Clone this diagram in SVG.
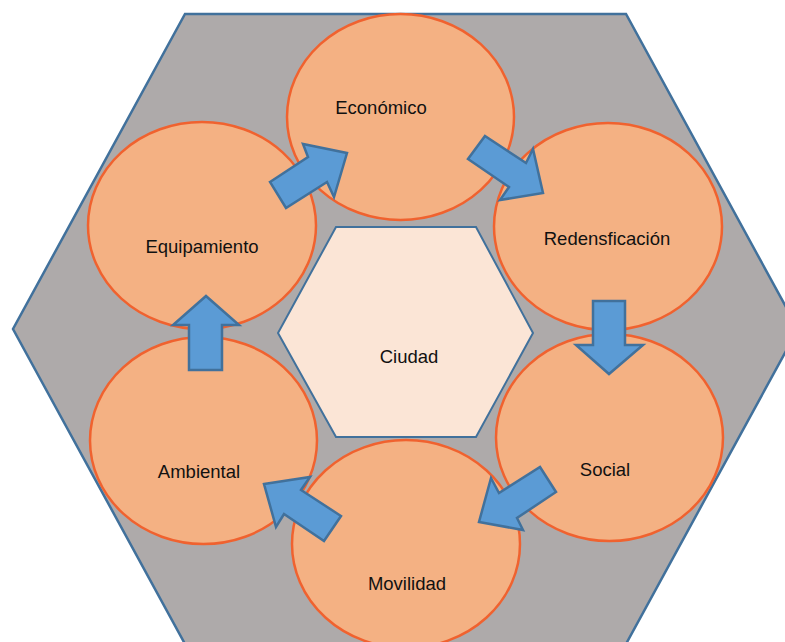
<svg xmlns="http://www.w3.org/2000/svg" width="785" height="642" viewBox="0 0 785 642">
<style>
.el{fill:#F4B183;stroke:#F0622F;stroke-width:2.5}
.arr{fill:#5B9BD5;stroke:#41719C;stroke-width:2.5;stroke-linejoin:miter}
.lbl{font-family:"Liberation Sans",Arial,sans-serif;font-size:18.5px;fill:#111;text-anchor:middle}
</style>
<rect width="785" height="642" fill="#FFFFFF"/>
<g id="outer">
<polygon points="185,14 626,14 798,329 626,644 185,644 13,329" fill="#AEAAAA" stroke="#41719C" stroke-width="2.5"/>
</g>
<g id="economico"><ellipse class="el" cx="400.5" cy="117" rx="113.5" ry="103"/><text class="lbl" x="381" y="114">Económico</text></g>
<g id="redensficacion"><ellipse class="el" cx="608" cy="226.5" rx="114" ry="103.5"/><text class="lbl" x="607" y="245">Redensficación</text></g>
<g id="social"><ellipse class="el" cx="609.5" cy="437.5" rx="113.5" ry="103.5"/><text class="lbl" x="605" y="476">Social</text></g>
<g id="movilidad"><ellipse class="el" cx="406" cy="544" rx="114" ry="104"/><text class="lbl" x="407" y="590">Movilidad</text></g>
<g id="ambiental"><ellipse class="el" cx="203.5" cy="440.5" rx="113.5" ry="103.5"/><text class="lbl" x="199" y="478">Ambiental</text></g>
<g id="equipamiento"><ellipse class="el" cx="202" cy="225.5" rx="114" ry="103.5"/><text class="lbl" x="202" y="253">Equipamiento</text></g>
<g id="ciudad">
<polygon points="336,227 476,227 533,333 476,437 336,437 278,333" fill="#FBE5D6" stroke="#41719C" stroke-width="2"/>
<text class="lbl" x="409" y="363">Ciudad</text>
</g>
<g id="connectors">
<polygon class="arr" points="270,182 308,157 303,144 347,153 334,197 327,182 286,208"/>
<polygon class="arr" points="485,136 526,163 533,149 543,193 500,200 509,187 468,159"/>
<polygon class="arr" points="593,301 625,301 625,345 643,345 609,374 576,345 593,345"/>
<polygon class="arr" points="540,467 556,492 517,518 523,530 479,522 491,478 499,493"/>
<polygon class="arr" points="264,484 310,477 301,490 341,516 324,541 284,514 276,527"/>
<polygon class="arr" points="206,296 239,325 222,325 222,370 189,370 189,325 173,325"/>
</g>
</svg>
